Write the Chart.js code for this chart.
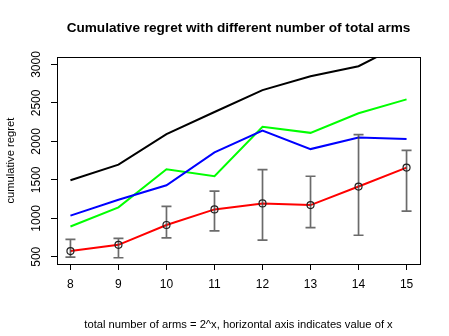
<!DOCTYPE html>
<html>
<head>
<meta charset="utf-8">
<script src="https://cdn.jsdelivr.net/npm/chart.js@4/dist/chart.umd.min.js"></script>
<style>
  html, body { margin: 0; padding: 0; background: #fff; }
  #wrap { width: 449px; height: 336px; }
</style>
</head>
<body>
<div id="wrap"><canvas id="grafico"></canvas></div>
<script>
// dados
var braços = [8, 9, 10, 11, 12, 13, 14, 15];
var serieVermelha = [574, 655, 913, 1116, 1194, 1172, 1413, 1659];
var erroBaixo = [496, 487, 745, 836, 716, 880, 780, 1094];
var erroAlto = [725, 738, 1155, 1353, 1633, 1547, 2089, 1882];
var seriePreta = [1495, 1698, 2094, 2382, 2667, 2848, 2977, 3296];
var serieAzul = [1035, 1241, 1430, 1857, 2142, 1900, 2050, 2030];
var serieVerde = [893, 1142, 1637, 1547, 2189, 2111, 2366, 2546];
var ticksY = [500, 1000, 1500, 2000, 2500, 3000];

var fonte = "'Liberation Sans', Arial, sans-serif";

function pontos(valores) {
  return valores.map(function (v, i) { return { x: braços[i], y: v }; });
}

// caixa em volta da área do gráfico (estilo R) + barras de erro
var pluginCaixa = {
  id: 'caixa',
  afterDatasetsDraw: function (chart) {
    var ctx = chart.ctx;
    var a = chart.chartArea;
    var sx = chart.scales.x;
    var sy = chart.scales.y;
    ctx.save();
    ctx.strokeStyle = '#000';
    ctx.lineWidth = 1;
    ctx.strokeRect(Math.round(a.left) + 0.5, Math.round(a.top) + 0.5,
      Math.round(a.right - a.left), Math.round(a.bottom - a.top));

    // barras de erro
    ctx.strokeStyle = 'rgba(70,70,70,0.8)';
    ctx.lineWidth = 1.7;
    for (var i = 0; i < braços.length; i++) {
      var x = sx.getPixelForValue(braços[i]);
      var y1 = sy.getPixelForValue(erroBaixo[i]);
      var y2 = sy.getPixelForValue(erroAlto[i]);
      ctx.beginPath();
      ctx.moveTo(x, y1); ctx.lineTo(x, y2);
      ctx.moveTo(x - 5, y1); ctx.lineTo(x + 5, y1);
      ctx.moveTo(x - 5, y2); ctx.lineTo(x + 5, y2);
      ctx.stroke();
    }
    // círculos abertos nos pontos vermelhos
    ctx.strokeStyle = '#222';
    ctx.lineWidth = 1.2;
    for (var j = 0; j < braços.length; j++) {
      ctx.beginPath();
      ctx.arc(sx.getPixelForValue(braços[j]), sy.getPixelForValue(serieVermelha[j]), 3.5, 0, Math.PI * 2);
      ctx.stroke();
    }
    ctx.restore();
  }
};

function linha(dados, cor) {
  return {
    data: pontos(dados),
    borderColor: cor,
    borderWidth: 2,
    pointRadius: 0,
    fill: false,
    tension: 0
  };
}

const config = {
  type: 'line',
  data: {
    datasets: [
      linha(seriePreta, '#000000'),
      linha(serieAzul, '#0000ff'),
      linha(serieVerde, '#00ff00'),
      linha(serieVermelha, '#ff0000')
    ]
  },
  options: {
    responsive: false,
    animation: false,
    layout: { padding: { left: 0, right: 29, top: 0, bottom: 0 } },
    plugins: {
      legend: { display: false },
      tooltip: { enabled: false },
      title: {
        display: true,
        fullSize: false,
        text: 'Cumulative regret with different number of total arms',
        color: '#000',
        font: { family: fonte, size: 13.6, weight: 'bold' },
        padding: { top: 20, bottom: 21 }
      }
    },
    scales: {
      x: {
        type: 'linear',
        min: 7.72,
        max: 15.28,
        afterBuildTicks: function (s) { s.ticks = braços.map(function (v) { return { value: v }; }); },
        afterFit: function (s) { s.height = 72; },
        grid: { drawOnChartArea: false, drawTicks: true, tickLength: 6, color: '#000', tickColor: '#000' },
        border: { display: false },
        ticks: { color: '#000', font: { family: fonte, size: 12 }, padding: 7, maxRotation: 0 },
        title: {
          display: true,
          text: 'total number of arms = 2^x, horizontal axis indicates value of x',
          color: '#000',
          font: { family: fonte, size: 11.2 },
          padding: { top: 13 }
        }
      },
      y: {
        type: 'linear',
        min: 406,
        max: 3093,
        afterBuildTicks: function (s) { s.ticks = ticksY.map(function (v) { return { value: v }; }); },
        afterFit: function (s) { s.width = 57; },
        grid: { drawOnChartArea: false, drawTicks: true, tickLength: 6, color: '#000', tickColor: '#000' },
        border: { display: false },
        ticks: {
          color: '#000',
          font: { family: fonte, size: 12 },
          minRotation: 90,
          maxRotation: 90,
          crossAlign: 'center',
          padding: 1,
          callback: function (v) { return String(v); }
        },
        title: {
          display: true,
          text: 'cumulative regret',
          color: '#000',
          font: { family: fonte, size: 11.2 },
          padding: { bottom: 0 }
        }
      }
    }
  },
  plugins: [pluginCaixa]
};

var canvas = document.getElementById('grafico');
canvas.width = 449;
canvas.height = 336;
new Chart(canvas, config);
</script>
</body>
</html>
